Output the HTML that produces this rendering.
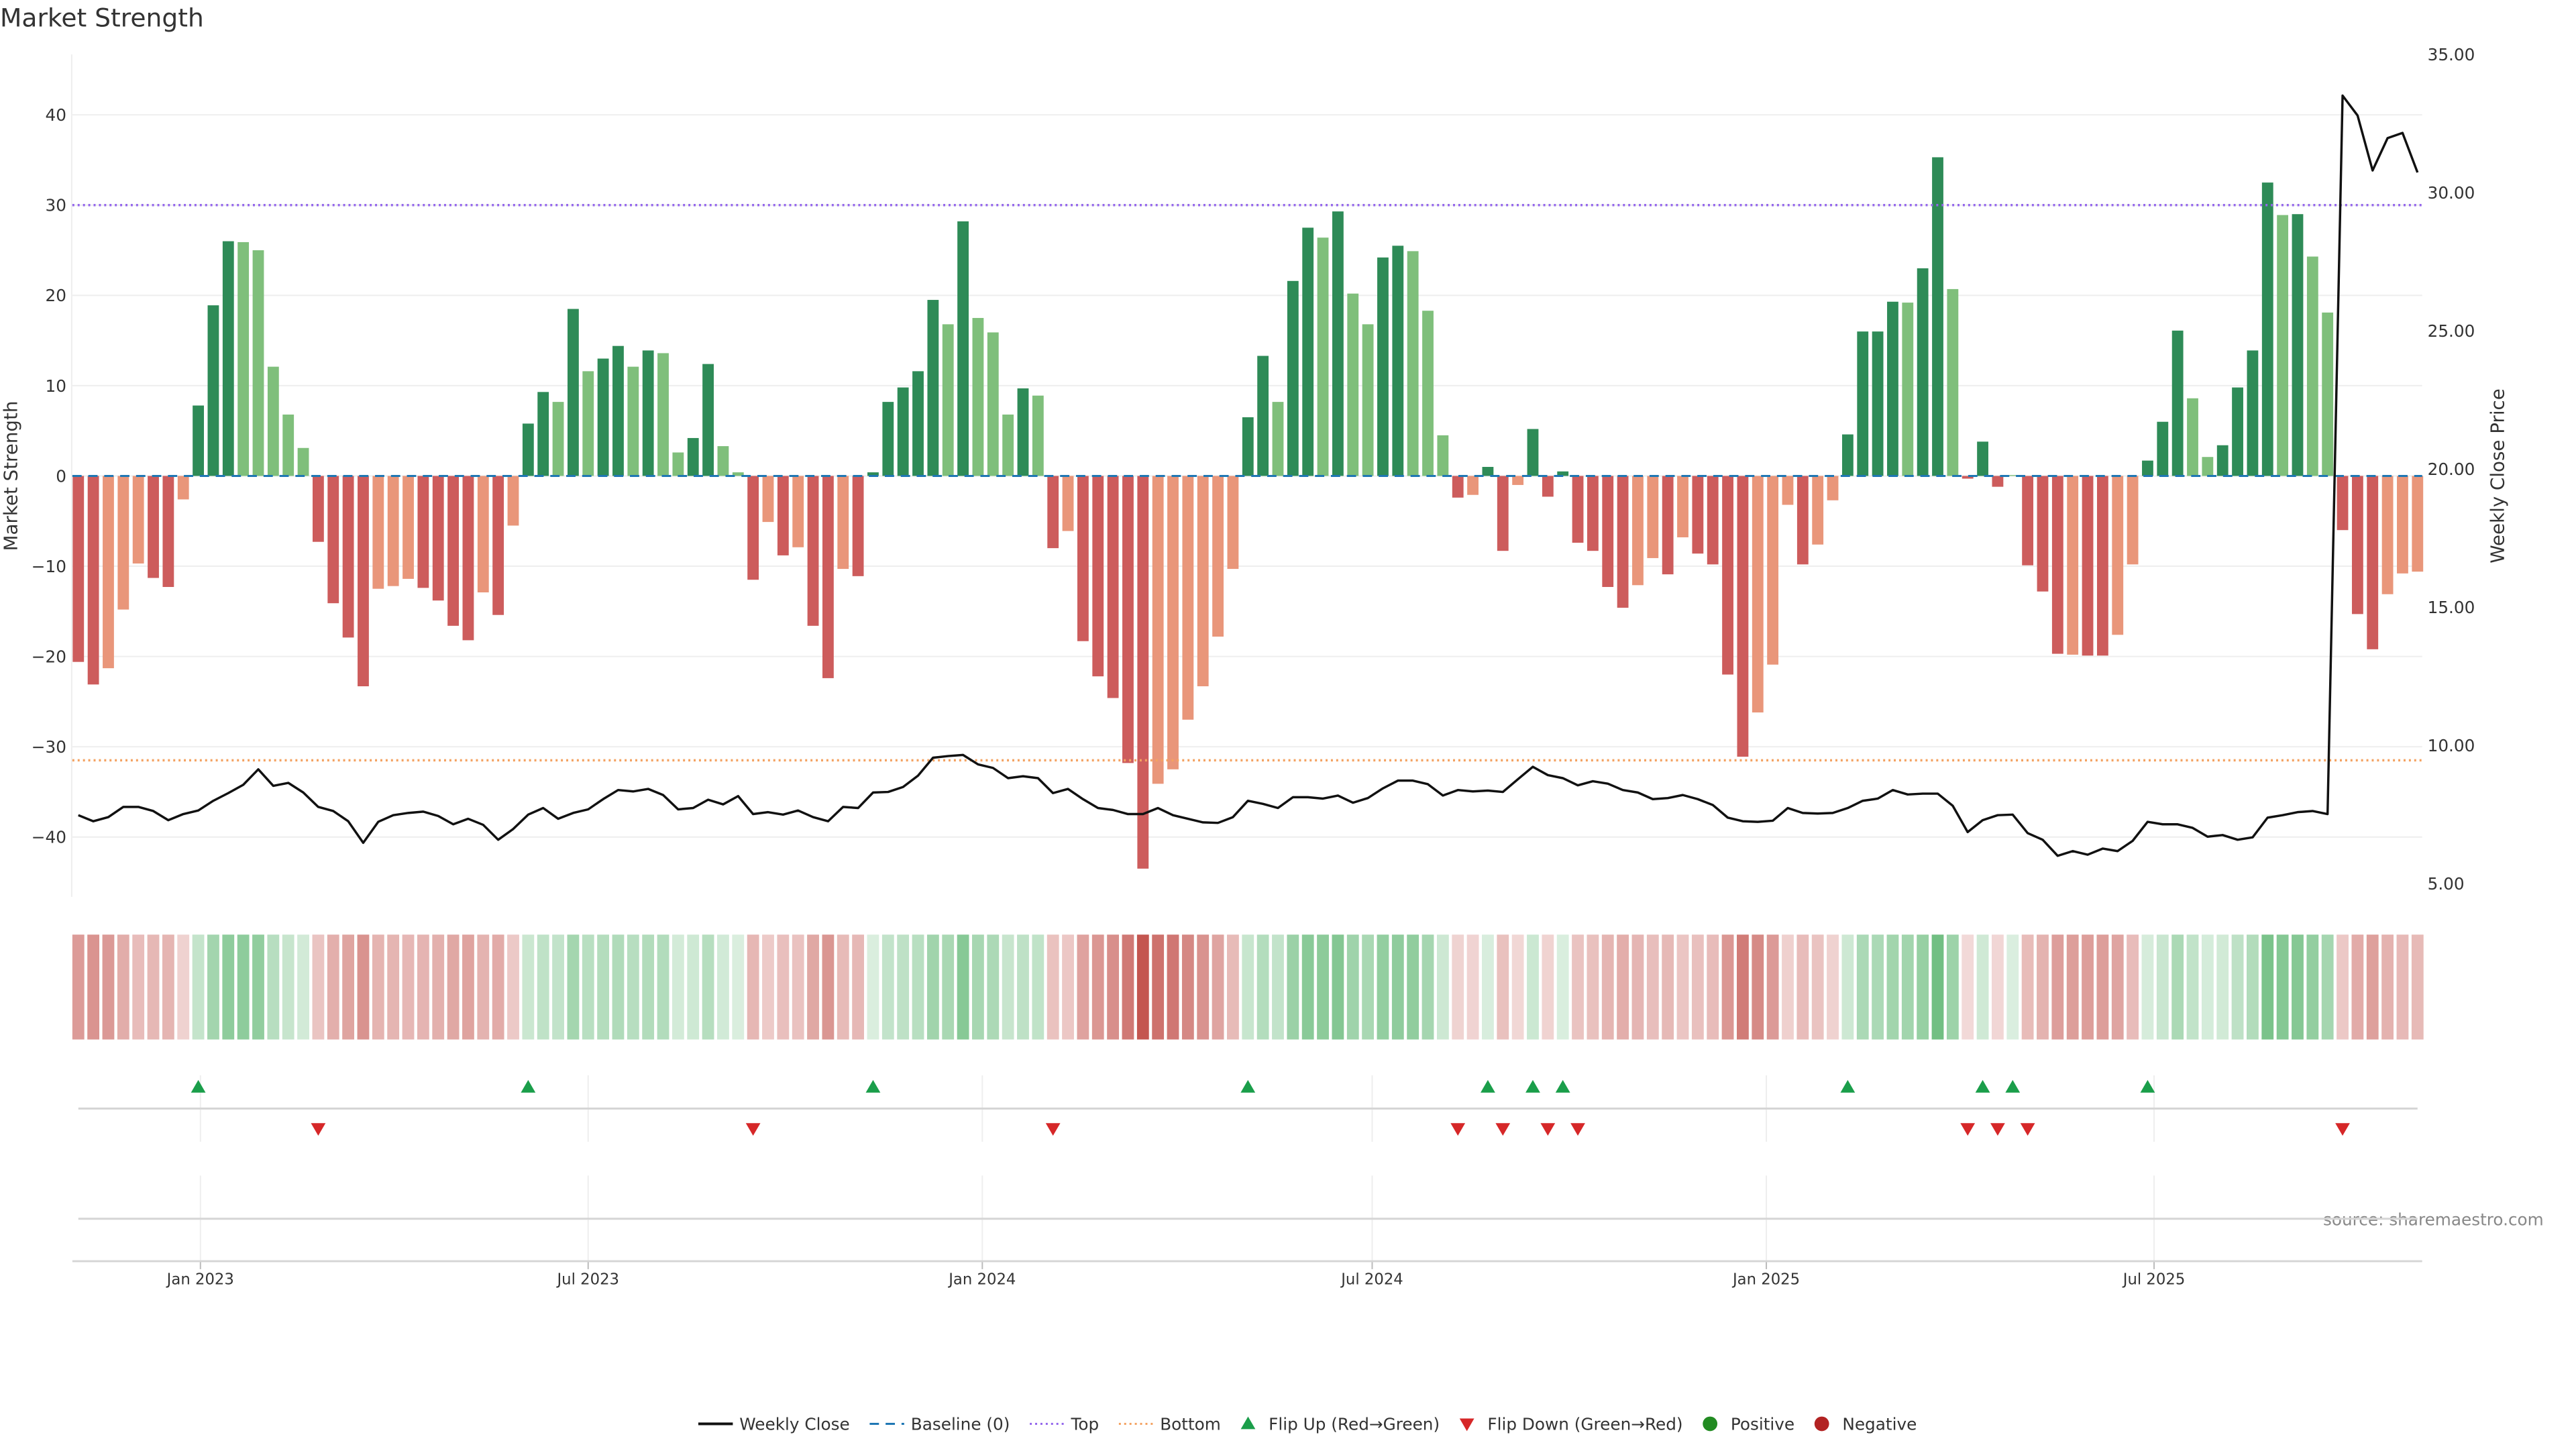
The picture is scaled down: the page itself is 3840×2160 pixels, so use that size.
<!DOCTYPE html>
<html><head><meta charset="utf-8"><style>
html,body{margin:0;padding:0;background:#fff;}
svg{display:block;font-family:"DejaVu Sans","Liberation Sans",sans-serif;}
</style></head><body>
<svg id="chart" width="3840" height="2160" viewBox="0 0 3840 2160" xmlns="http://www.w3.org/2000/svg">
<g transform="scale(0.9895)">
<text x="0" y="40" font-size="38" fill="#333">Market Strength</text>
<text transform="translate(26,717) rotate(-90)" text-anchor="middle" font-size="28" fill="#333">Market Strength</text>
<text transform="translate(3772,717) rotate(-90)" text-anchor="middle" font-size="28" fill="#333">Weekly Close Price</text>
<text x="3832" y="1846" text-anchor="end" font-size="25" fill="#888">source: sharemaestro.com</text>
<g id="grid"></g><g id="bars"></g><g id="lines"></g><g id="heat"></g><g id="flips"></g><g id="axes"></g><g id="legend"></g>
</g>
</svg>
<script>
const strength=[-20.6,-23.1,-21.3,-14.8,-9.7,-11.3,-12.3,-2.6,7.8,18.9,26,25.9,25,12.1,6.8,3.1,-7.3,-14.1,-17.9,-23.3,-12.5,-12.2,-11.4,-12.4,-13.8,-16.6,-18.2,-12.9,-15.4,-5.5,5.8,9.3,8.2,18.5,11.6,13.0,14.4,12.1,13.9,13.6,2.6,4.2,12.4,3.3,0.4,-11.5,-5.1,-8.8,-7.9,-16.6,-22.4,-10.3,-11.1,0.4,8.2,9.8,11.6,19.5,16.8,28.2,17.5,15.9,6.8,9.7,8.9,-8.0,-6.1,-18.3,-22.2,-24.6,-31.8,-43.5,-34.1,-32.5,-27.0,-23.3,-17.8,-10.3,6.5,13.3,8.2,21.6,27.5,26.4,29.3,20.2,16.8,24.2,25.5,24.9,18.3,4.5,-2.4,-2.1,1.0,-8.3,-1.0,5.2,-2.3,0.5,-7.4,-8.3,-12.3,-14.6,-12.1,-9.1,-10.9,-6.8,-8.6,-9.8,-22.0,-31.1,-26.2,-20.9,-3.2,-9.8,-7.6,-2.7,4.6,16.0,16.0,19.3,19.2,23.0,35.3,20.7,-0.3,3.8,-1.2,0.1,-9.9,-12.8,-19.7,-19.8,-19.9,-19.9,-17.6,-9.8,1.7,6.0,16.1,8.6,2.1,3.4,9.8,13.9,32.5,28.9,29.0,24.3,18.1,-6.0,-15.3,-19.2,-13.1,-10.8,-10.6];
const shade=[1,1,0,0,0,1,1,0,1,1,1,0,0,0,0,0,1,1,1,1,0,0,0,1,1,1,1,0,1,0,
1,1,0,1,0,1,1,0,1,0,0,1,1,0,0,1,0,1,0,1,1,0,1,
1,1,1,1,1,0,1,0,0,0,1,0,1,0,1,1,1,1,1,0,0,0,0,0,0,
1,1,0,1,1,0,1,0,0,1,1,0,0,0,1,0,1,1,0,1,1,1,
1,1,1,1,0,0,1,0,1,1,1,1,0,0,0,1,0,0,
1,1,1,1,0,1,1,0,1,1,1,0,1,1,1,0,1,1,0,0,
1,1,1,0,0,1,1,1,1,0,1,0,0,1,1,1,0,0,0];
const price=[7.47,7.25,7.40,7.77,7.77,7.62,7.29,7.51,7.64,7.99,8.27,8.57,9.13,8.53,8.64,8.29,7.77,7.62,7.25,6.47,7.23,7.47,7.55,7.60,7.44,7.14,7.34,7.12,6.58,6.97,7.49,7.73,7.34,7.55,7.68,8.05,8.38,8.33,8.42,8.20,7.68,7.73,8.03,7.86,8.16,7.51,7.58,7.49,7.64,7.40,7.25,7.77,7.73,8.29,8.31,8.49,8.90,9.55,9.61,9.65,9.31,9.18,8.81,8.88,8.81,8.27,8.42,8.05,7.73,7.66,7.51,7.51,7.73,7.47,7.34,7.21,7.19,7.40,7.99,7.88,7.73,8.12,8.12,8.07,8.18,7.92,8.09,8.44,8.72,8.72,8.59,8.18,8.38,8.33,8.36,8.31,8.77,9.22,8.92,8.81,8.55,8.70,8.61,8.38,8.29,8.05,8.09,8.20,8.05,7.84,7.38,7.25,7.23,7.27,7.73,7.55,7.53,7.55,7.73,7.99,8.07,8.38,8.22,8.25,8.25,7.81,6.86,7.29,7.47,7.49,6.82,6.58,6.00,6.17,6.04,6.26,6.17,6.54,7.23,7.14,7.14,7.01,6.69,6.75,6.58,6.67,7.38,7.47,7.58,7.62,7.51,33.51,32.79,30.80,31.97,32.16,30.73];
const leftTicks=[40,30,20,10,0,-10,-20,-30,-40];
const rightTicks=[35,30,25,20,15,10,5];
const dateTicks=["2023-01-01","2023-07-01","2024-01-01","2024-07-01","2025-01-01","2025-07-01"];
const dateLabels=["Jan 2023","Jul 2023","Jan 2024","Jul 2024","Jan 2025","Jul 2025"];
const topLevel=30, bottomLevel=-31.5;

const NS="http://www.w3.org/2000/svg";
function mk(tag,attrs,parent){const e=document.createElementNS(NS,tag);for(const k in attrs)e.setAttribute(k,attrs[k]);parent.appendChild(e);return e;}
const X0=118, STEP=22.59, BW=17;
const xi=i=>X0+i*STEP;
const yL=v=>717-v*13.6;
const yR=p=>82+(35-p)*41.63;
const firstDate=Date.parse("2022-12-31");
const xd=s=>X0+8*STEP+(Date.parse(s)-firstDate)/86400000/7*STEP;
const PL=109, PR=3649;
const G=id=>document.getElementById(id);

leftTicks.forEach(t=>{
  const l=mk('line',{x1:PL,x2:PR,y1:yL(t),y2:yL(t),stroke:'#eeeeee','stroke-width':2},G('grid'));
  
  
  const tx=mk('text',{x:100,y:yL(t)+9,'text-anchor':'end','font-size':25,fill:'#333'},G('axes'));
  tx.textContent=t===0?'0':(t<0?'\u2212'+(-t):String(t));
  
  
});
rightTicks.forEach(t=>{
  const tx=mk('text',{x:3657,y:yR(t)+9,'font-size':25,fill:'#333'},G('axes'));
  tx.textContent=t.toFixed(2);
  
  
});
const la=mk('line',{x1:108,x2:108,y1:82,y2:1351,stroke:'#eeeeee','stroke-width':2},G('grid'));



strength.forEach((v,i)=>{
  const pos=v>=0;
  const c=pos?(shade[i]?'#2e8b57':'#7fbf7b'):(shade[i]?'#cd5c5c':'#e9967a');
  const y=Math.min(yL(v),yL(0)), h=Math.max(1,Math.abs(yL(v)-yL(0)));
  const r=mk('rect',{x:xi(i)-BW/2,y:y,width:BW,height:h,fill:c},G('bars'));
  
  
});
const bl=mk('line',{x1:PL,x2:PR,y1:yL(0),y2:yL(0),stroke:'#1f77b4','stroke-width':3,'stroke-dasharray':'14,10'},G('lines'));


const tl=mk('line',{x1:PL,x2:PR,y1:yL(topLevel),y2:yL(topLevel),stroke:'#9467ec','stroke-width':3.5,'stroke-dasharray':'3,5'},G('lines'));


const bt=mk('line',{x1:PL,x2:PR,y1:yL(bottomLevel),y2:yL(bottomLevel),stroke:'#f4a261','stroke-width':3.5,'stroke-dasharray':'3,5'},G('lines'));


const pts=price.map((p,i)=>xi(i).toFixed(1)+','+yR(p).toFixed(1)).join(' ');
const pl=mk('polyline',{points:pts,fill:'none',stroke:'#111','stroke-width':3.5,'stroke-linejoin':'round'},G('lines'));



const maxAbs=Math.max(...strength.map(Math.abs));
strength.forEach((v,i)=>{
  const a=Math.min(1,Math.abs(v)/maxAbs);
  const t=0.22+0.78*a;
  const base=v>=0?[90,180,110]:[196,86,80];
  const col=base.map(b=>Math.round(255-(255-b)*t));
  const r=mk('rect',{x:xi(i)-9,y:1408,width:18,height:158,fill:'rgb('+col.join(',')+')'},G('heat'));
  
  
});

dateTicks.forEach((d,k)=>{
  const x=xd(d);
  const g1=mk('line',{x1:x,x2:x,y1:1620,y2:1720,stroke:'#eeeeee','stroke-width':2},G('grid'));
  
  
  const g2=mk('line',{x1:x,x2:x,y1:1771,y2:1900,stroke:'#eeeeee','stroke-width':2},G('grid'));
  
  
  const tk=mk('line',{x1:x,x2:x,y1:1900,y2:1912,stroke:'#bbb','stroke-width':2},G('axes'));
  
  
  const tx=mk('text',{x:x,y:1935,'text-anchor':'middle','font-size':23,fill:'#333'},G('axes'));
  tx.textContent=dateLabels[k];
  
  
});
const ml=mk('line',{x1:118,x2:3642,y1:1670,y2:1670,stroke:'#d5d5d5','stroke-width':3},G('grid'));


const ml2=mk('line',{x1:118,x2:3642,y1:1836,y2:1836,stroke:'#d5d5d5','stroke-width':3},G('grid'));


const xa=mk('line',{x1:109,x2:3649,y1:1900,y2:1900,stroke:'#d5d5d5','stroke-width':3},G('axes'));



for(let i=1;i<strength.length;i++){
  const a=strength[i-1], b=strength[i], x=xi(i);
  if(a<0&&b>=0){
    const m=mk('polygon',{points:`${x-11},1646 ${x+11},1646 ${x},1627`,fill:'#1a9e4a'},G('flips'));
    
    
  } else if(a>=0&&b<0){
    const m=mk('polygon',{points:`${x-11},1692 ${x+11},1692 ${x},1711`,fill:'#d62728'},G('flips'));
    
    
  }
}

const lg=G('legend'); const LY=2145;
let lx=1052;
function ltext(s){const t=mk('text',{x:lx,y:LY+9,'font-size':25,fill:'#333'},lg);t.textContent=s;lx+=t.getComputedTextLength()+30;}
function lline(stroke,dash,w,name){const l=mk('line',{x1:lx,x2:lx+52,y1:LY,y2:LY,stroke:stroke,'stroke-width':w,'stroke-dasharray':dash},lg);lx+=62;}
lline('#111','none',4,'legend-weekly-close');ltext('Weekly Close');
lline('#1f77b4','14,10',3,'legend-baseline');ltext('Baseline (0)');
lline('#9467ec','3,5',3,'legend-top');ltext('Top');
lline('#f4a261','3,5',3,'legend-bottom');ltext('Bottom');
let tu=mk('polygon',{points:`${lx},${LY+8} ${lx+22},${LY+8} ${lx+11},${LY-11}`,fill:'#1a9e4a'},lg);lx+=42;ltext('Flip Up (Red\u2192Green)');
let td=mk('polygon',{points:`${lx},${LY-8} ${lx+22},${LY-8} ${lx+11},${LY+11}`,fill:'#d62728'},lg);lx+=42;ltext('Flip Down (Green\u2192Red)');
let cp=mk('circle',{cx:lx+11,cy:LY,r:11,fill:'#228b22'},lg);lx+=42;ltext('Positive');
let cn=mk('circle',{cx:lx+11,cy:LY,r:11,fill:'#b22222'},lg);lx+=42;ltext('Negative');
</script>
</body></html>
